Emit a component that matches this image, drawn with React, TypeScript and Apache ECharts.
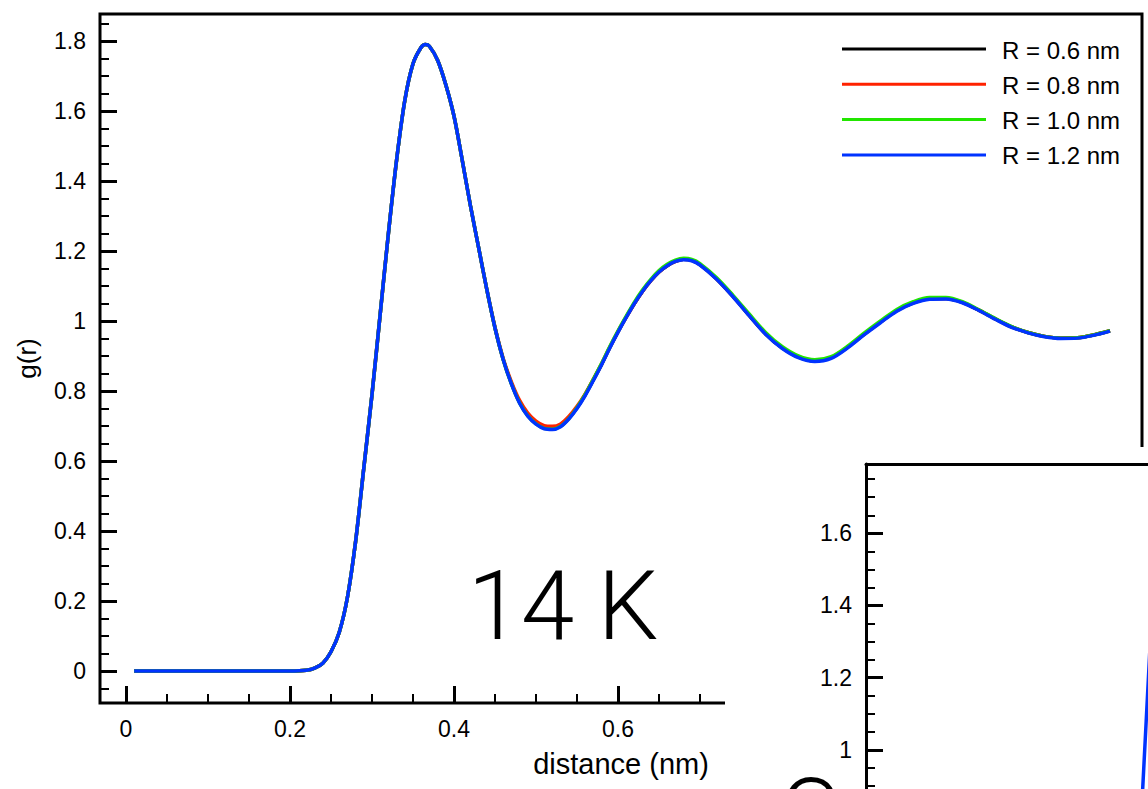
import React, { useEffect, useRef } from "react";
import * as echarts from "echarts";

// ---------- data ----------
const distance = [
  0.01, 0.05, 0.1, 0.15, 0.2, 0.22, 0.23, 0.24, 0.25, 0.26, 0.27, 0.28, 0.29, 0.3, 0.31, 0.32, 0.33, 0.34, 0.35, 0.36,
  0.365, 0.37, 0.38, 0.39, 0.4, 0.41, 0.42, 0.43, 0.44, 0.45, 0.46, 0.47, 0.48, 0.49, 0.5, 0.51, 0.52, 0.53, 0.54, 0.55,
  0.56, 0.57, 0.58, 0.59, 0.6, 0.61, 0.62, 0.63, 0.64, 0.65, 0.66, 0.67, 0.68, 0.69, 0.7, 0.72, 0.74, 0.76, 0.78, 0.8,
  0.82, 0.84, 0.86, 0.88, 0.9, 0.92, 0.94, 0.96, 0.98, 1.0, 1.02, 1.04, 1.06, 1.08, 1.1, 1.12, 1.14, 1.16, 1.18, 1.2,
];

const gR06 = [
  0, 0, 0, 0, 0, 0.002, 0.008, 0.022, 0.055, 0.11, 0.21, 0.37, 0.58, 0.79, 1.02, 1.25, 1.46, 1.63, 1.735, 1.782,
  1.79, 1.785, 1.745, 1.675, 1.585, 1.46, 1.33, 1.21, 1.09, 0.98, 0.89, 0.822, 0.768, 0.731, 0.708, 0.695, 0.693, 0.7, 0.722, 0.752,
  0.789, 0.832, 0.876, 0.924, 0.969, 1.011, 1.05, 1.085, 1.115, 1.14, 1.158, 1.17, 1.176, 1.173, 1.161, 1.121, 1.071, 1.016, 0.963, 0.923,
  0.897, 0.886, 0.895, 0.925, 0.962, 0.997, 1.03, 1.052, 1.064, 1.064, 1.053, 1.031, 1.006, 0.983, 0.967, 0.956, 0.951, 0.952, 0.96, 0.972,
];

const gR08 = [
  0, 0, 0, 0, 0, 0.002, 0.008, 0.022, 0.055, 0.11, 0.21, 0.37, 0.58, 0.79, 1.02, 1.25, 1.46, 1.63, 1.735, 1.782,
  1.79, 1.785, 1.745, 1.675, 1.585, 1.46, 1.33, 1.21, 1.09, 0.982, 0.893, 0.826, 0.773, 0.737, 0.714, 0.701, 0.699, 0.706, 0.727, 0.756,
  0.792, 0.834, 0.878, 0.925, 0.97, 1.011, 1.05, 1.085, 1.115, 1.14, 1.158, 1.17, 1.176, 1.173, 1.161, 1.121, 1.071, 1.017, 0.964, 0.924,
  0.898, 0.887, 0.896, 0.926, 0.962, 0.997, 1.03, 1.052, 1.064, 1.064, 1.053, 1.031, 1.006, 0.983, 0.967, 0.956, 0.951, 0.952, 0.96, 0.972,
];

const gR10 = [
  0, 0, 0, 0, 0, 0.002, 0.008, 0.022, 0.055, 0.11, 0.21, 0.37, 0.58, 0.79, 1.02, 1.25, 1.46, 1.63, 1.735, 1.782,
  1.79, 1.785, 1.745, 1.675, 1.585, 1.46, 1.33, 1.21, 1.09, 0.98, 0.89, 0.82, 0.766, 0.729, 0.706, 0.693, 0.691, 0.699, 0.721, 0.752,
  0.79, 0.834, 0.879, 0.927, 0.972, 1.014, 1.054, 1.089, 1.119, 1.144, 1.162, 1.174, 1.179, 1.176, 1.164, 1.124, 1.074, 1.02, 0.967, 0.927,
  0.9, 0.889, 0.898, 0.928, 0.965, 1.0, 1.033, 1.055, 1.067, 1.067, 1.055, 1.032, 1.007, 0.984, 0.967, 0.956, 0.951, 0.952, 0.96, 0.972,
];

const gR12 = [
  0, 0, 0, 0, 0, 0.002, 0.008, 0.022, 0.055, 0.11, 0.21, 0.37, 0.58, 0.79, 1.02, 1.25, 1.46, 1.63, 1.735, 1.782,
  1.79, 1.785, 1.745, 1.675, 1.585, 1.46, 1.33, 1.21, 1.09, 0.98, 0.89, 0.82, 0.765, 0.728, 0.705, 0.692, 0.69, 0.698, 0.72, 0.75,
  0.787, 0.83, 0.875, 0.923, 0.968, 1.01, 1.05, 1.085, 1.115, 1.14, 1.158, 1.17, 1.175, 1.172, 1.16, 1.12, 1.07, 1.015, 0.962, 0.922,
  0.895, 0.884, 0.893, 0.923, 0.96, 0.995, 1.028, 1.05, 1.062, 1.063, 1.052, 1.03, 1.005, 0.982, 0.966, 0.955, 0.95, 0.951, 0.959, 0.971,
];

const seriesNames = ["R = 0.6 nm", "R = 0.8 nm", "R = 1.0 nm", "R = 1.2 nm"];
const seriesValues = [gR06, gR08, gR10, gR12];
const seriesColors = ["#000000", "#ff2200", "#22e600", "#0033ff"];

const xMajorTicks = [0, 0.2, 0.4, 0.6, 0.8, 1.0, 1.2];
const xMinorTicks = [
  0.05, 0.1, 0.15, 0.25, 0.3, 0.35, 0.45, 0.5, 0.55, 0.65, 0.7, 0.75, 0.85, 0.9, 0.95, 1.05, 1.1, 1.15,
];
const yMajorTicks = [0, 0.2, 0.4, 0.6, 0.8, 1, 1.2, 1.4, 1.6, 1.8];
const yMinorTicks = [
  -0.05, 0.05, 0.1, 0.15, 0.25, 0.3, 0.35, 0.45, 0.5, 0.55, 0.65, 0.7, 0.75, 0.85, 0.9, 0.95, 1.05, 1.1, 1.15, 1.25,
  1.3, 1.35, 1.45, 1.5, 1.55, 1.65, 1.7, 1.75, 1.85,
];

// second (partly hidden) panel
const insetDistance = [0.3, 0.305, 0.31, 0.315];
const insetG = [0.64, 0.86, 1.08, 1.3];
const insetYMajorTicks = [1, 1.2, 1.4, 1.6];
const insetYMinorTicks = [0.9, 0.95, 1.05, 1.1, 1.15, 1.25, 1.3, 1.35, 1.45, 1.5, 1.55, 1.65, 1.7, 1.75];

const panelLabel = "14 K";

// ---------- styling ----------
const FONT = "'Liberation Sans', Arial, Helvetica, sans-serif";
const TICK_FS = 23;

function tickAxis(extra: any, values: number[], isMajor: boolean, withLabels: boolean, lineShow = false) {
  return {
    type: "value",
    scale: true,
    axisLine: { show: lineShow, onZero: false, lineStyle: { color: "#000", width: 3 } },
    splitLine: { show: false },
    axisTick: {
      show: true,
      inside: true,
      length: isMajor ? 17 : 9,
      lineStyle: { color: "#000", width: isMajor ? 3 : 2 },
      customValues: values,
    },
    axisLabel: withLabels
      ? { show: true, customValues: values, color: "#000", fontSize: TICK_FS, fontFamily: FONT, margin: 14 }
      : { show: false },
    ...extra,
  };
}

export default function App() {
  const ref = useRef<HTMLDivElement>(null);

  useEffect(() => {
    if (!ref.current) return;
    const chart = echarts.init(ref.current, undefined, { renderer: "svg" });

    const xMin = -0.0317;
    const xMax = 1.239;
    const yMin = -0.0914;
    const yMax = 1.877;

    const mainSeries = seriesNames.map((name, i) => ({
      name,
      type: "line",
      xAxisIndex: 0,
      yAxisIndex: 0,
      data: distance.map((x, k) => [x, seriesValues[i][k]]),
      showSymbol: false,
      symbol: "none",
      smooth: 0.3,
      lineStyle: { color: seriesColors[i], width: 3.5 },
      z: 2 + i,
      silent: true,
    }));

    const legendGraphics: any[] = [];
    seriesNames.forEach((name, i) => {
      const y = 49 + 35.3 * i;
      legendGraphics.push({
        type: "line",
        shape: { x1: 842, y1: y, x2: 986, y2: y },
        style: { stroke: seriesColors[i], lineWidth: 3 },
        z: 70,
      });
      legendGraphics.push({
        type: "text",
        x: 1002,
        y: y + 1,
        style: {
          text: name,
          fontSize: 24,
          fontFamily: FONT,
          fill: "#000",
          textAlign: "left",
          textVerticalAlign: "middle",
          align: "left",
          verticalAlign: "middle",
        },
        z: 70,
      });
    });

    chart.setOption({
      animation: false,
      backgroundColor: "#ffffff",
      grid: [
        { left: 100, top: 14, width: 1042, height: 689, show: true, borderColor: "#000", borderWidth: 3, z: 0 },
        { left: 866, top: 464, width: 282, height: 325, show: false, z: 60 },
      ],
      xAxis: [
        tickAxis(
          {
            gridIndex: 0,
            position: "bottom",
            min: xMin,
            max: xMax,
            name: "distance (nm)",
            nameLocation: "middle",
            nameGap: 46,
            nameTextStyle: { color: "#000", fontSize: 29, fontFamily: FONT },
          },
          xMajorTicks,
          true,
          true
        ),
        tickAxis({ gridIndex: 0, position: "bottom", min: xMin, max: xMax }, xMinorTicks, false, false),
        {
          type: "value",
          gridIndex: 1,
          position: "top",
          min: -0.0317,
          max: 0.3122,
          axisLine: { show: true, onZero: false, lineStyle: { color: "#000", width: 3 } },
          axisTick: { show: false },
          axisLabel: { show: false },
          splitLine: { show: false },
          z: 61,
        },
      ],
      yAxis: [
        tickAxis(
          {
            gridIndex: 0,
            position: "left",
            min: yMin,
            max: yMax,
            name: "g(r)",
            nameLocation: "middle",
            nameGap: 60,
            nameTextStyle: { color: "#000", fontSize: 26, fontFamily: FONT },
          },
          yMajorTicks,
          true,
          true
        ),
        tickAxis({ gridIndex: 0, position: "left", min: yMin, max: yMax }, yMinorTicks, false, false),
        tickAxis({ gridIndex: 1, position: "left", min: 0.8916, max: 1.792, z: 61 }, insetYMajorTicks, true, true, true),
        tickAxis({ gridIndex: 1, position: "left", min: 0.8916, max: 1.792, z: 61 }, insetYMinorTicks, false, false),
      ],
      series: [
        ...mainSeries,
        {
          name: "inset",
          type: "line",
          xAxisIndex: 2,
          yAxisIndex: 2,
          data: insetDistance.map((x, k) => [x, insetG[k]]),
          showSymbol: false,
          symbol: "none",
          lineStyle: { color: seriesColors[3], width: 3.5 },
          z: 62,
          silent: true,
        },
      ],
      graphic: [
        {
          type: "rect",
          shape: { x: 725, y: 447, width: 423, height: 342 },
          style: { fill: "#ffffff" },
          z: 50,
          silent: true,
        },
        ...legendGraphics,
        {
          type: "text",
          x: 563,
          y: 606,
          style: {
            text: panelLabel,
            fontSize: 96,
            fontFamily: "Roboto, 'Liberation Sans', sans-serif",
            fontWeight: 300,
            fill: "#000",
            textAlign: "center",
            textVerticalAlign: "middle",
            align: "center",
            verticalAlign: "middle",
          },
          z: 70,
        },
        {
          type: "text",
          x: 810,
          y: 814,
          style: {
            text: "C",
            fontSize: 96,
            fontFamily: "Roboto, 'Liberation Sans', sans-serif",
            fontWeight: 300,
            fill: "#000",
            textAlign: "center",
            textVerticalAlign: "middle",
            align: "center",
            verticalAlign: "middle",
          },
          z: 70,
        },
      ],
    });

    return () => chart.dispose();
  }, []);

  return (
    <div
      ref={ref}
      style={{ position: "absolute", left: 0, top: 0, width: 1148, height: 789, background: "#fff" }}
    />
  );
}
